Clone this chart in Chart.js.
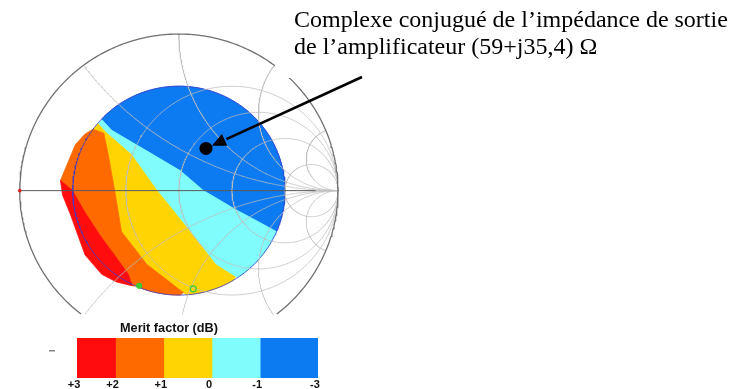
<!DOCTYPE html>
<html lang="fr">
<head>
<meta charset="utf-8">
<title>Merit factor – abaque de Smith</title>
<script src="https://cdn.jsdelivr.net/npm/chart.js@4.4.1/dist/chart.umd.min.js"></script>
<style>
  html, body { margin: 0; padding: 0; background: #fff; overflow: hidden; }
  #stage { position: relative; width: 734px; height: 389px; }
  #smithWrap { position: absolute; left: 0; top: 0; width: 734px; height: 389px; }
  #barWrap { position: absolute; left: 60px; top: 334px; width: 290px; height: 60px; }
</style>
</head>
<body>
<div id="stage">
  <div id="smithWrap"><canvas id="smith"></canvas></div>
  <div id="barWrap"><canvas id="bar"></canvas></div>
</div>
<script>
// ---- Data ---------------------------------------------------------------

// Amplifier output impedance (ohms) and reference impedance
const zOut = [59, 35.4];
const z0 = 50;

// Colour-bar levels (dB) and where each level sits along the bar
const legendLabels = ['+3', '+2', '+1', '0', '-1', '-3'];
const legendStops = [0, 0.8, 1.8, 2.8, 3.8, 5.0];
const legendTitle = 'Merit factor (dB)';

// |Γ| of the explored region's rim
const rimRadius = 0.667;

// Iso-merit contours in the Γ plane (upper-left tip -> rim)
const contourM1 = [[-0.485, 0.454], [-0.423, 0.386], [-0.176, 0.238], [0.009, 0.127],
                   [0.151, 0.003], [0.355, -0.120], [0.491, -0.194], [0.614, -0.262]];
const contour0  = [[-0.509, 0.429], [-0.460, 0.373], [-0.299, 0.231], [-0.139, 0.003],
                   [0.071, -0.262], [0.231, -0.472], [0.355, -0.552]];
const contourP1 = [[-0.540, 0.392], [-0.472, 0.367], [-0.448, 0.250], [-0.404, 0.003],
                   [-0.361, -0.262], [-0.201, -0.472], [0.028, -0.651]];
const contourP2 = [[-0.744, 0.065], [-0.670, 0.003], [-0.590, -0.139], [-0.491, -0.293],
                   [-0.392, -0.429], [-0.318, -0.534], [-0.293, -0.608]];

// Left edge of the region, outside the rim
const edgeOrange = [[-0.744, 0.065], [-0.694, 0.188], [-0.651, 0.293], [-0.590, 0.361], [-0.540, 0.392]];
const edgeRed    = [[-0.744, 0.065], [-0.731, -0.028], [-0.682, -0.151], [-0.590, -0.410],
                    [-0.485, -0.534], [-0.392, -0.583], [-0.293, -0.608]];

// Points marked on the rim
const rimMarks = [[-0.250, -0.608], [0.090, -0.627]];

// Smith chart grid values
const gridR = [0.5, 1, 2, 5];
const gridX = [0.5, 1, 2, 5];

// ---- Styles -------------------------------------------------------------
const bandColors = ['#ff0c0c', '#ff6a00', '#ffd400', '#80fcfc', '#0c7af0'];
const gridColor = 'rgba(190,190,190,0.75)';
const yCut = -0.793;   // the grid stops above the colour-bar title

// ---- Geometry helpers ---------------------------------------------------
const pt = ([x, y]) => ({ x, y });
const last = a => a[a.length - 1];
const rev = a => a.slice().reverse();

function gammaOf(re, im) {               // Γ = (z - 1) / (z + 1)
  const nr = re - 1, dr = re + 1, d = dr * dr + im * im;
  return { x: (nr * dr + im * im) / d, y: (im * dr - nr * im) / d };
}

function rimArc(from, to) {              // clockwise along |Γ| = rimRadius
  const a0 = Math.atan2(from[1], from[0]);
  let a1 = Math.atan2(to[1], to[0]);
  while (a1 > a0) a1 -= 2 * Math.PI;
  const n = Math.max(2, Math.ceil((a0 - a1) / 0.03));
  const out = [];
  for (let i = 1; i < n; i++) {
    const a = a0 + (a1 - a0) * i / n;
    out.push({ x: rimRadius * Math.cos(a), y: rimRadius * Math.sin(a) });
  }
  return out;
}

function resistanceCircle(r) {
  const c = r / (1 + r), rad = 1 / (1 + r), out = [];
  for (let i = 0; i <= 360; i++) {
    const a = -Math.PI / 2 + i * Math.PI / 180;
    const y = rad * Math.sin(a);
    if (y >= yCut) out.push({ x: c + rad * Math.cos(a), y });
  }
  return out;
}

function reactanceArc(x) {
  const out = [];
  for (let i = 0; i <= 300; i++) {
    const r = Math.tan(i / 300 * Math.PI / 2 * 0.999);
    const g = gammaOf(r, x);
    if (g.y >= yCut) out.push(g);
  }
  return out;
}

function fullCircle(rad) {
  const out = [];
  for (let i = 0; i <= 360; i++) {
    const a = i * Math.PI / 180;
    out.push({ x: rad * Math.cos(a), y: rad * Math.sin(a) });
  }
  return out;
}

// ---- Band polygons ------------------------------------------------------
const bandBlue   = [pt(contourM1[0]), ...rimArc(contourM1[0], last(contourM1)), ...rev(contourM1).map(pt)];
const bandCyan   = [...contourM1.map(pt), ...rimArc(last(contourM1), last(contour0)), ...rev(contour0).map(pt)];
const bandYellow = [...contour0.map(pt), ...rimArc(last(contour0), last(contourP1)), ...rev(contourP1).map(pt)];
const bandOrange = [...contourP1.map(pt), ...rimArc(last(contourP1), last(contourP2)),
                    ...rev(contourP2).map(pt), ...edgeOrange.slice(1).map(pt)];
const bandRed    = [...contourP2.map(pt), ...rev(edgeRed).map(pt)];
const bands = [bandRed, bandOrange, bandYellow, bandCyan, bandBlue];

// ---- Datasets -----------------------------------------------------------
const lineDs = (data, color, width, order) => ({
  data, borderColor: color, borderWidth: width, pointRadius: 0, fill: false, order, tension: 0
});

const datasets = [];
bands.forEach((b, i) => datasets.push({
  data: b, fill: 'shape', backgroundColor: bandColors[i], borderColor: bandColors[i],
  borderWidth: 0.8, pointRadius: 0, tension: 0, order: 100
}));
datasets.push(lineDs(fullCircle(rimRadius), 'rgba(60,60,205,0.85)', 1, 90));
gridR.forEach(r => datasets.push(lineDs(resistanceCircle(r), gridColor, 1, 80)));
gridX.forEach(x => {
  datasets.push(lineDs(reactanceArc(x), gridColor, 1, 80));
  datasets.push(lineDs(reactanceArc(-x), gridColor, 1, 80));
});
datasets.push(lineDs([{ x: 0.86, y: 0 }, { x: 1, y: 0 }], gridColor, 1, 80));
datasets.push(lineDs(resistanceCircle(0), '#707070', 1.3, 70));
datasets.push(lineDs([{ x: -1, y: 0 }, { x: 0.86, y: 0 }], '#5a5a5a', 1, 60));
datasets.push({ data: [{ x: -1, y: 0 }], showLine: false, pointRadius: 1.8,
  pointBackgroundColor: '#e02020', pointBorderWidth: 0, order: 50 });
datasets.push({ data: rimMarks.map(pt), showLine: false, pointRadius: [2.4, 3],
  pointBackgroundColor: ['#3ccc3c', 'rgba(0,0,0,0)'], pointBorderColor: '#3ccc3c',
  pointBorderWidth: 1.3, order: 40 });
const outGamma = gammaOf(zOut[0] / z0, zOut[1] / z0);
datasets.push({ data: [outGamma], showLine: false, pointRadius: 6.5,
  pointBackgroundColor: '#000', pointBorderWidth: 0, order: 10 });

// ---- Annotations: caption, arrow, colour-bar title ---------------------
const captionLines = [
  'Complexe conjugué de l’impédance de sortie',
  'de l’amplificateur (' + zOut[0] + '+j' + String(zOut[1]).replace('.', ',') + ') Ω'
];

const annotations = {
  id: 'annotations',
  afterDatasetsDraw(chart) {
    const ctx = chart.ctx, xs = chart.scales.x, ys = chart.scales.y;
    ctx.save();
    ctx.fillStyle = '#fff';
    ctx.fillRect(275, 0, chart.width - 275, 78);

    ctx.fillStyle = '#000';
    ctx.textAlign = 'left';
    ctx.textBaseline = 'alphabetic';
    ctx.font = '24px "Liberation Serif", "Times New Roman", serif';
    ctx.fillText(captionLines[0], 294, 27);
    ctx.fillText(captionLines[1], 294, 54);

    // arrow from the caption to the output-impedance point
    const px = xs.getPixelForValue(outGamma.x), py = ys.getPixelForValue(outGamma.y);
    const sx = 362, sy = 77;
    const len = Math.hypot(sx - px, sy - py), ux = (sx - px) / len, uy = (sy - py) / len;
    const tx = px + ux * 6.5, ty = py + uy * 6.5;
    const bx = tx + ux * 14, by = ty + uy * 14;
    ctx.strokeStyle = '#000';
    ctx.lineWidth = 2.6;
    ctx.beginPath();
    ctx.moveTo(sx, sy);
    ctx.lineTo(bx + ux * 2, by + uy * 2);
    ctx.stroke();
    ctx.beginPath();
    ctx.moveTo(tx, ty);
    ctx.lineTo(bx - uy * 6.5, by + ux * 6.5);
    ctx.lineTo(bx + uy * 6.5, by - ux * 6.5);
    ctx.closePath();
    ctx.fill();

    ctx.textAlign = 'center';
    ctx.font = 'bold 12.7px "Liberation Sans", Arial, sans-serif';
    ctx.fillStyle = '#111';
    ctx.fillText(legendTitle, 169, 332);

    ctx.fillStyle = '#888';
    ctx.fillRect(49, 350, 6, 1.5);
    ctx.restore();
  }
};

new Chart(document.getElementById('smith'), {
  type: 'line',
  data: { datasets },
  options: {
    responsive: true,
    maintainAspectRatio: false,
    animation: false,
    events: [],
    layout: { padding: 0 },
    plugins: { legend: { display: false }, tooltip: { enabled: false } },
    scales: {
      x: { type: 'linear', display: false, min: -175.5 / 162, max: (734 - 175.5) / 162 },
      y: { type: 'linear', display: false, min: -(389 - 190.5) / 162, max: 190.5 / 162 }
    }
  },
  plugins: [annotations]
});

// ---- Colour bar ---------------------------------------------------------
const bar = new Chart(document.getElementById('bar'), {
  type: 'bar',
  data: {
    labels: [''],
    datasets: bandColors.map((c, i) => ({
      data: [legendStops[i + 1] - legendStops[i]],
      backgroundColor: c, borderWidth: 0, barPercentage: 1, categoryPercentage: 1
    }))
  },
  options: {
    indexAxis: 'y',
    responsive: true,
    maintainAspectRatio: false,
    animation: false,
    events: [],
    layout: { padding: { left: 14, right: 14, top: 0, bottom: 0 } },
    plugins: { legend: { display: false }, tooltip: { enabled: false } },
    scales: {
      x: {
        type: 'linear', stacked: true, min: 0, max: last(legendStops),
        afterBuildTicks: s => { s.ticks = legendStops.map(v => ({ value: v })); },
        ticks: {
          callback: (v, i) => legendLabels[i], autoSkip: false, maxRotation: 0, padding: 0,
          labelOffset: -3,
          color: '#111', font: { family: '"Liberation Sans", Arial, sans-serif', size: 11, weight: 'bold' }
        },
        grid: { display: false, drawTicks: false },
        border: { display: false }
      },
      y: { stacked: true, display: false }
    }
  }
});

// place the colour bar so its plot area spans x 77–318, y 338–378
(function placeBar() {
  const wrap = document.getElementById('barWrap');
  let ca = bar.chartArea;
  const w = wrap.clientWidth + (241 - (ca.right - ca.left));
  const h = wrap.clientHeight + (40 - (ca.bottom - ca.top));
  wrap.style.width = w + 'px';
  wrap.style.height = h + 'px';
  bar.resize();
  ca = bar.chartArea;
  wrap.style.left = (77 - ca.left) + 'px';
  wrap.style.top = (338 - ca.top) + 'px';
})();
</script>
</body>
</html>
